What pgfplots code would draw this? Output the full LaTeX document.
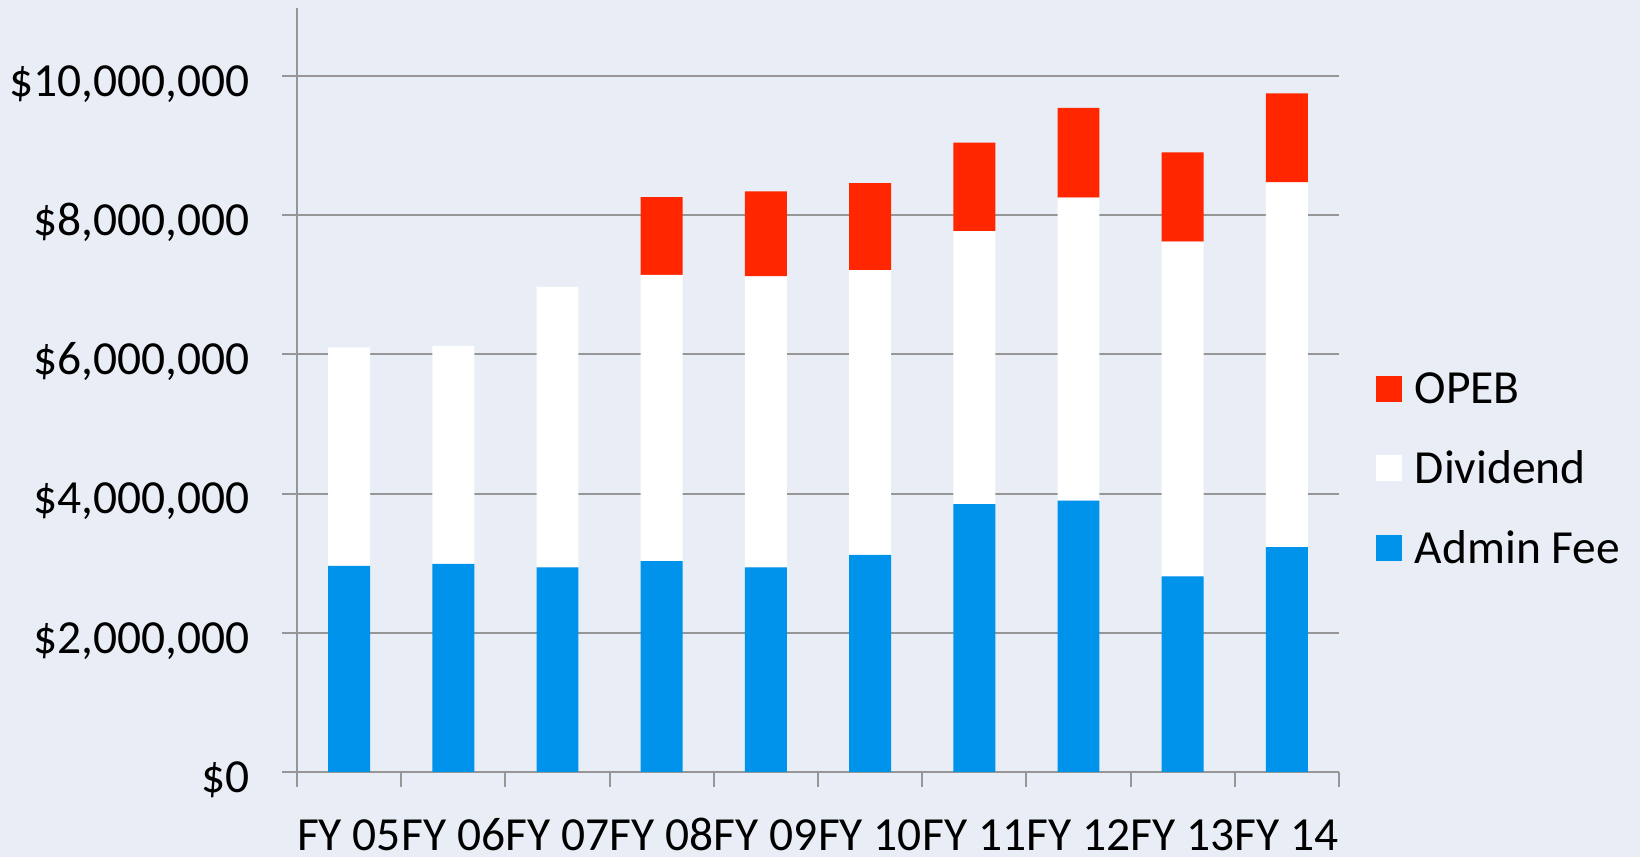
\documentclass[border=0pt]{standalone}
\usepackage{pgfplots}
\pgfplotsset{compat=1.18}
\usepackage{fontspec}
\setmainfont{Carlito}
\definecolor{bg}{RGB}{233,237,245}
\definecolor{adminblue}{RGB}{0,147,235}
\definecolor{opebred}{RGB}{255,38,0}
\definecolor{gridgray}{RGB}{150,150,150}
\newcommand{\lblfont}{\fontsize{23.75pt}{28pt}\selectfont}
\begin{document}
\begin{tikzpicture}
\fill[bg] (0,0) rectangle (820pt,428.5pt);
\useasboundingbox (0,0) rectangle (820pt,428.5pt);
\begin{axis}[
  at={(148.5pt,42.5pt)}, anchor=south west,
  scale only axis, width=521pt, height=381.8pt,
  ybar stacked, bar width=0.403,
  xmin=-0.5, xmax=9.5, ymin=0, ymax=10.97e6,
  axis lines*=left,
  axis line style={draw=gridgray, line width=1pt, -},
  xtick={-0.5,0.5,1.5,2.5,3.5,4.5,5.5,6.5,7.5,8.5,9.5},
  xticklabels={},
  extra x ticks={0,1,2,3,4,5,6,7,8,9},
  extra x tick labels={FY 05,FY 06,FY 07,FY 08,FY 09,FY 10,FY 11,FY 12,FY 13,FY 14},
  extra x tick style={major tick length=0pt, xticklabel style={anchor=base, inner sep=0pt, yshift=-39.5pt}},
  scaled y ticks=false,
  ytick={0,2000000,4000000,6000000,8000000,10000000},
  yticklabels={{\$0},{\$2,000,000},{\$4,000,000},{\$6,000,000},{\$8,000,000},{\$10,000,000}},
  yticklabel style={anchor=base east, inner sep=0pt, xshift=-16pt, yshift=-10.2pt},
  ymajorgrids,
  grid style={draw=gridgray, line width=1pt},
  tick align=outside, major tick length=7.5pt,
  tick style={draw=gridgray, line width=1pt},
  tick label style={font=\lblfont, text=black},
  legend style={draw=none, fill=none, at={(1.0355,0.3965)}, anchor=west, inner sep=0pt,
    font=\lblfont, row sep=18pt, cells={anchor=west},
    /tikz/every odd column/.append style={column sep=4.2pt}},
  legend image code/.code={\fill[#1,draw=none] (0pt,-6.5pt) rectangle (13pt,6.5pt);},
  reverse legend,
]
\addplot[fill=adminblue, draw=none] coordinates {(0,2.96e6)(1,2.99e6)(2,2.94e6)(3,3.03e6)(4,2.94e6)(5,3.12e6)(6,3.85e6)(7,3.90e6)(8,2.81e6)(9,3.23e6)};
\addlegendentry{Admin Fee}
\addplot[fill=white, draw=none] coordinates {(0,3.14e6)(1,3.13e6)(2,4.03e6)(3,4.11e6)(4,4.18e6)(5,4.09e6)(6,3.92e6)(7,4.35e6)(8,4.81e6)(9,5.24e6)};
\addlegendentry{Dividend}
\addplot[fill=opebred, draw=none] coordinates {(0,0)(1,0)(2,0)(3,1.12e6)(4,1.22e6)(5,1.25e6)(6,1.27e6)(7,1.29e6)(8,1.28e6)(9,1.28e6)};
\addlegendentry{OPEB}
\end{axis}
\end{tikzpicture}
\end{document}
